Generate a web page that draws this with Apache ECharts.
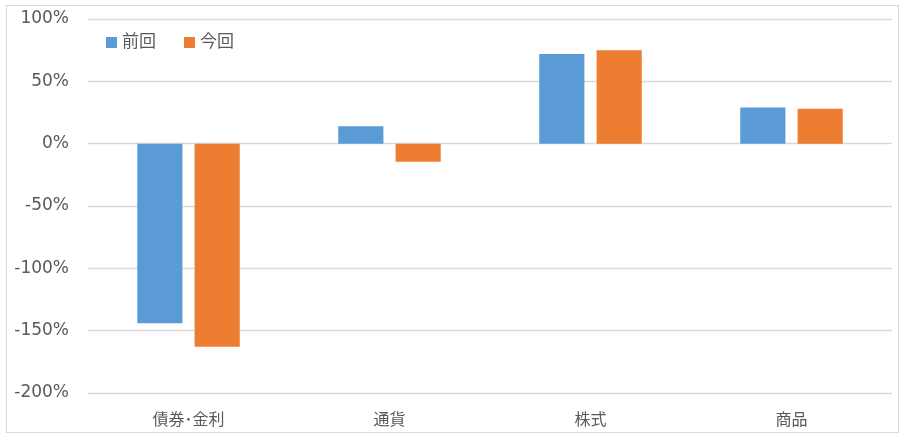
<!DOCTYPE html>
<html><head><meta charset="utf-8">
<script src="https://cdn.jsdelivr.net/npm/echarts@6/dist/echarts.min.js"></script>
<style>html,body{margin:0;padding:0;background:#fff}#c{width:907px;height:435px}
#frame{position:absolute;left:6px;top:5px;width:893px;height:428px;border:1px solid #d9d9d9;box-sizing:border-box;pointer-events:none}</style>
</head><body><div id="c"></div><div id="frame"></div>
<script>
const categories = ['債券･金利', '通貨', '株式', '商品'];
const seriesNames = ['前回', '今回'];
const prevValues = [-144, 14, 72, 29];
const currValues = [-163, -14.5, 75, 28];
const colors = ['#5b9bd5', '#ed7d31'];
const font = '"DejaVu Sans", "Noto Sans CJK JP", sans-serif';
const chart = echarts.init(document.getElementById('c'));
chart.setOption({
  animation: false,
  color: colors,
  textStyle: { fontFamily: font },
  legend: {
    left: 101, top: 29, itemWidth: 11, itemHeight: 11, itemGap: 28,
    icon: 'rect',
    textStyle: { fontSize: 17, color: '#595959', fontFamily: font },
    data: seriesNames
  },
  grid: { left: 88, right: 15, top: 19, bottom: 42 },
  xAxis: {
    type: 'category', data: categories, position: 'bottom',
    axisLine: { show: false }, axisTick: { show: false },
    axisLabel: { color: '#595959', fontSize: 16, margin: 20, fontFamily: font }
  },
  yAxis: {
    type: 'value', min: -200, max: 100, interval: 50,
    axisLine: { show: false }, axisTick: { show: false },
    axisLabel: { color: '#595959', fontSize: 17, margin: 19, formatter: '{value}%', fontFamily: font },
    splitLine: { lineStyle: { color: '#d9d9d9', width: 1.3 } }
  },
  series: [
    { name: seriesNames[0], type: 'bar', data: prevValues, barGap: '27%', barCategoryGap: '49%' },
    { name: seriesNames[1], type: 'bar', data: currValues, barGap: '27%', barCategoryGap: '49%' }
  ]
});
</script></body></html>
